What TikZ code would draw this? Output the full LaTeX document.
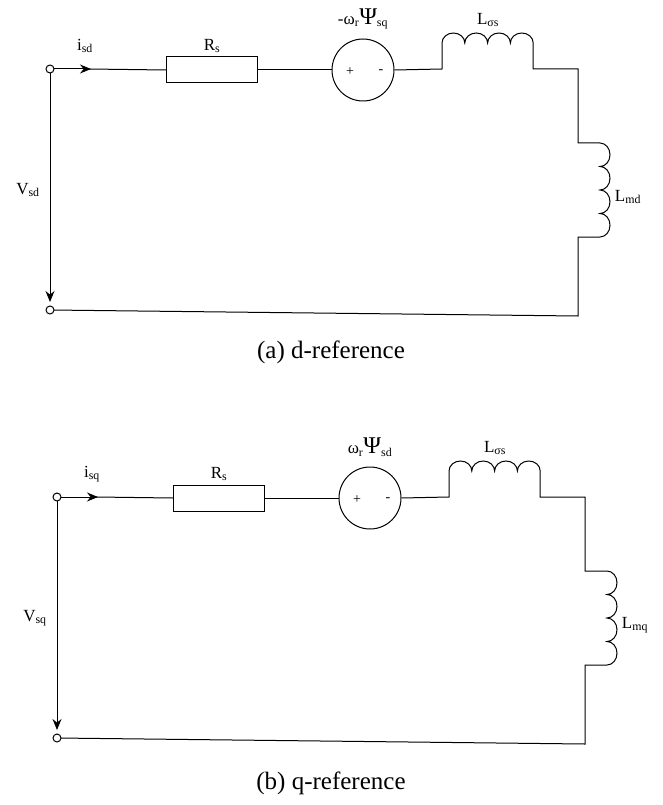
\documentclass[tikz,border=0pt]{standalone}
\usepackage{fontspec}
\setmainfont{Liberation Serif}
\usetikzlibrary{arrows.meta}
\begin{document}
\begin{tikzpicture}[x=1pt,y=-1pt,
  w/.style={line width=1pt,black},
  term/.style={circle,draw,line width=1pt,fill=white,minimum size=8pt,inner sep=0pt},
  res/.style={draw,line width=1pt,minimum width=91pt,minimum height=26pt,inner sep=0pt},
  src/.style={circle,draw,line width=1pt,minimum size=62pt,inner sep=0pt},
  lbl/.style={font=\fontsize{17}{17}\selectfont,inner sep=0pt},
  captxt/.style={font=\fontsize{25}{25}\selectfont,inner sep=0pt}]
\useasboundingbox (0,0) rectangle (662,805);
\foreach \dx/\dy/\n/\i/\v/\e/\m in {0/0/a/sd/sq/-/md,7/428/b/sq/sd//mq}{
\begin{scope}[shift={(\dx,\dy)}]
  \node[res] (R\n) at (212,70) {};
  \node[src] (S\n) at (363,70) {};
  \node[font=\fontsize{14}{14}\selectfont] at (350,72) {+};
  \node[font=\fontsize{14}{14}\selectfont] at (381,72) {-};
  \coordinate (T\n) at (50,69);
  \coordinate (B\n) at (50,310);
  \coordinate (L1\n) at (442,69);
  \coordinate (L2\n) at (533,69);
  \coordinate (C\n) at (578,69);
  \coordinate (D\n) at (578,143);
  \coordinate (E\n) at (578,237);
  \coordinate (F\n) at (578,316);
  \draw[w,-{Stealth[length=11pt,width=9pt]}] (T\n) -- (91,69);
  \draw[w] (89,69) -- (R\n.west);
  \draw[w] (R\n.east) -- (S\n.west);
  \draw[w] (S\n.east) -- (L1\n) -- ++(0,-26)
     arc[start angle=180,end angle=360,x radius=11.4,y radius=10]
     arc[start angle=180,end angle=360,x radius=11.4,y radius=10]
     arc[start angle=180,end angle=360,x radius=11.4,y radius=10]
     arc[start angle=180,end angle=360,x radius=11.4,y radius=10] -- (L2\n) -- (C\n) -- (D\n) -- ++(22,0)
     arc[start angle=-90,end angle=90,x radius=10,y radius=11.75]
     arc[start angle=-90,end angle=90,x radius=10,y radius=11.75]
     arc[start angle=-90,end angle=90,x radius=10,y radius=11.75]
     arc[start angle=-90,end angle=90,x radius=10,y radius=11.75] -- (E\n) -- (F\n) -- (B\n);
  \draw[w,-{Stealth[length=11pt,width=9pt]}] (T\n) -- (50,302);
  \node[term] at (T\n) {};
  \node[term] at (B\n) {};
  \node[lbl] at (85,46) {i\textsubscript{\i}};
  \node[lbl] at (212,46) {R\textsubscript{s}};
  \node[lbl] at (363,19) {\e ω\textsubscript{r}{\fontsize{24}{24}\selectfont Ψ}\textsubscript{\v}};
  \node[lbl] at (488,20) {L\textsubscript{σs}};
  \node[lbl] at (628,197) {L\textsubscript{\m}};
  \node[lbl] at (28,190) {V\textsubscript{\i}};
\end{scope}}
\node[captxt] at (331,352) {(a) d-reference};
\node[captxt] at (331,783) {(b) q-reference};
\end{tikzpicture}
\end{document}
